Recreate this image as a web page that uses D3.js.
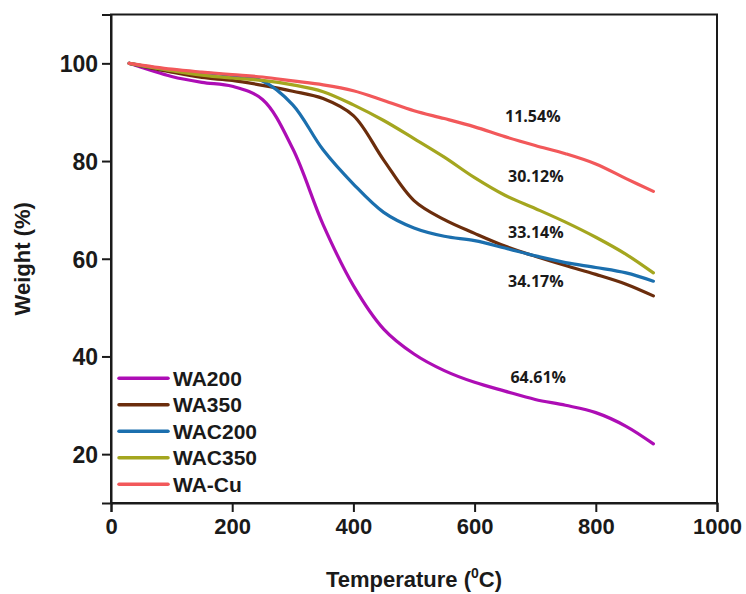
<!DOCTYPE html>
<html>
<head>
<meta charset="utf-8">
<script src="https://cdn.jsdelivr.net/npm/d3@7"></script>
<style>
  body { margin: 0; background: #fff; }
  text { font-family: 'Liberation Sans', Arial, sans-serif; font-weight: bold; fill: #1a1a1a; }
</style>
</head>
<body>
<svg id="chart"></svg>
<script>
// temperatures (°C) at which the curves were read
const temps = [30, 100, 150, 200, 250, 300, 350, 400, 450, 500, 550, 600, 650, 700, 750, 800, 850, 895];

// weight (%) per sample
const wa200 = [100, 97.3, 96.1, 95.3, 92.6, 82.5, 67.0, 54.5, 45.6, 40.5, 37.1, 34.7, 32.9, 31.2, 30.0, 28.5, 25.7, 22.1];
const wa350 = [100, 98.2, 97.1, 96.5, 95.5, 94.3, 92.8, 89.3, 80.2, 71.9, 68.0, 65.2, 62.6, 60.5, 58.6, 56.8, 54.8, 52.4];
const wac200 = [100, 98.6, 98.1, 97.5, 96.4, 91.5, 82.3, 75.3, 69.5, 66.3, 64.6, 63.7, 62.2, 60.6, 59.2, 58.2, 57.1, 55.4];
const wac350 = [100, 98.5, 97.6, 97.0, 96.5, 95.6, 94.2, 91.5, 88.3, 84.6, 80.8, 76.6, 73.0, 70.3, 67.5, 64.4, 60.9, 57.1];
const wacu = [100, 98.8, 98.2, 97.7, 97.2, 96.4, 95.6, 94.4, 92.4, 90.3, 88.7, 87.0, 85.0, 83.2, 81.5, 79.4, 76.4, 73.8];

const seriesNames = ['WA200', 'WA350', 'WAC200', 'WAC350', 'WA-Cu'];
const seriesValues = [wa200, wa350, wac200, wac350, wacu];
const colors = ['#ad0db5', '#6b2d0c', '#1b6fae', '#a4a61f', '#f2585a'];

// mass-loss annotations
const lossLabels = ['11.54%', '30.12%', '33.14%', '34.17%', '64.61%'];
const lossTemps = [696, 701, 701, 701, 705];
const lossWeights = [89.2, 77.0, 65.4, 55.4, 35.7];

const xTicks = [0, 200, 400, 600, 800, 1000];
const yTicks = [20, 40, 60, 80, 100];

const W = 746, H = 594;
const svg = d3.select('#chart').attr('width', W).attr('height', H);

const x = d3.scaleLinear().domain([0, 1000]).range([111, 717]);
const y = d3.scaleLinear().domain([10, 110]).range([503, 14.5]);

// frame
svg.append('rect')
  .attr('x', x(0)).attr('y', y(110))
  .attr('width', x(1000) - x(0)).attr('height', y(10) - y(110))
  .attr('fill', 'none').attr('stroke', '#1a1a1a').attr('stroke-width', 2);

const xAxis = svg.append('g')
  .attr('transform', `translate(0, ${y(10)})`)
  .call(d3.axisBottom(x).tickValues(xTicks).tickFormat(d3.format('d')).tickSize(9).tickPadding(6));
const yAxis = svg.append('g')
  .attr('transform', `translate(${x(0)}, 0)`)
  .call(d3.axisLeft(y).tickValues(yTicks).tickFormat(d3.format('d')).tickSize(9).tickPadding(4));

[xAxis, yAxis].forEach(a => {
  a.select('.domain').attr('stroke', '#1a1a1a').attr('stroke-width', 2);
  a.selectAll('.tick line').attr('stroke', '#1a1a1a').attr('stroke-width', 2);
  a.selectAll('.tick text').style('font-family', "'Liberation Sans', Arial, sans-serif")
    .style('font-weight', 'bold').attr('fill', '#1a1a1a');
});
xAxis.selectAll('.tick text').style('font-size', '22px');
yAxis.selectAll('.tick text').style('font-size', '23px').attr('dy', '0.36em');

const line = d3.line()
  .x(d => x(d[0]))
  .y(d => y(d[1]))
  .curve(d3.curveCatmullRom.alpha(0.5));

seriesValues.forEach((vals, i) => {
  svg.append('path')
    .datum(temps.map((t, j) => [t, vals[j]]))
    .attr('d', line)
    .attr('fill', 'none')
    .attr('stroke', colors[i])
    .attr('stroke-width', 3.2)
    .attr('stroke-linecap', 'round');
});

// loss labels
lossLabels.forEach((lab, i) => {
  svg.append('text')
    .attr('x', x(lossTemps[i]))
    .attr('y', y(lossWeights[i]))
    .attr('text-anchor', 'middle')
    .attr('dominant-baseline', 'central')
    .style('font-family', "'Open Sans', sans-serif")
    .style('font-size', '16px')
    .style('font-weight', 'bold')
    .attr('fill', '#222')
    .text(lab);
});

// legend
const legend = svg.append('g');
seriesNames.forEach((name, i) => {
  const ly = 378.3 + i * 26.5;
  legend.append('line')
    .attr('x1', 119).attr('x2', 168)
    .attr('y1', ly).attr('y2', ly)
    .attr('stroke', colors[i]).attr('stroke-width', 3.5)
    .attr('stroke-linecap', 'round');
  legend.append('text')
    .attr('x', 173).attr('y', ly)
    .attr('dominant-baseline', 'central')
    .style('font-size', '21px')
    .text(name);
});

// axis titles
const xt = svg.append('text')
  .attr('x', (x(0) + x(1000)) / 2)
  .attr('y', 587)
  .attr('text-anchor', 'middle')
  .style('font-size', '22px');
xt.append('tspan').text('Temperature (');
xt.append('tspan').attr('dy', -9).style('font-size', '14px').text('0');
xt.append('tspan').attr('dy', 9).text('C)');

svg.append('text')
  .attr('transform', `translate(30, ${(y(10) + y(110)) / 2}) rotate(-90)`)
  .attr('text-anchor', 'middle')
  .style('font-size', '22px')
  .text('Weight (%)');
</script>
</body>
</html>
